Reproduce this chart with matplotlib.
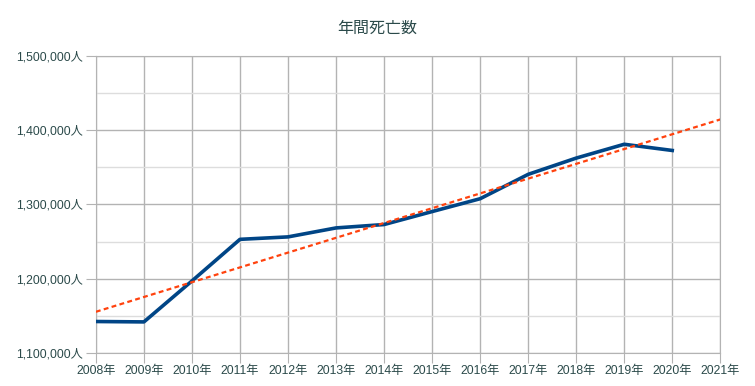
import matplotlib
matplotlib.use("Agg")
import matplotlib.pyplot as plt
from matplotlib.ticker import MultipleLocator, FuncFormatter

plt.rcParams['font.family'] = ['Liberation Sans', 'Noto Sans CJK JP', 'DejaVu Sans']

# Data
years = [2008, 2009, 2010, 2011, 2012, 2013, 2014, 2015, 2016, 2017, 2018, 2019, 2020]
deaths = [1142407, 1141865, 1197012, 1253066, 1256359, 1268436, 1273004,
          1290444, 1307748, 1340567, 1362470, 1381093, 1372755]
trend_years = [2008, 2021]
trend_values = [1155500, 1414500]
year_ticks = list(range(2008, 2022))

text_color = '#2b4a4a'

fig = plt.figure(figsize=(7.55, 3.86), dpi=100)
ax = fig.add_axes([0.127, 0.0855, 0.827, 0.7695])

ax.plot(years, deaths, color='#004586', linewidth=2.6, solid_joinstyle='round', zorder=3)
ax.plot(trend_years, trend_values, color='#ff420e', linewidth=1.6,
        linestyle=(0, (2.2, 1.5)), zorder=4)

ax.set_xlim(2008, 2021)
ax.set_ylim(1100000, 1500000)
ax.set_xticks(year_ticks)
ax.set_xticklabels([f"{y}年" for y in year_ticks])
ax.yaxis.set_major_locator(MultipleLocator(100000))
ax.yaxis.set_minor_locator(MultipleLocator(50000))
ax.yaxis.set_major_formatter(FuncFormatter(lambda v, p: f"{int(v):,}人"))

ax.grid(True, which='major', color='#b3b3b3', linewidth=1)
ax.grid(True, which='minor', axis='y', color='#dddddd', linewidth=1)
ax.set_axisbelow(True)

for s in ax.spines.values():
    s.set_color('#b3b3b3')
ax.tick_params(which='major', length=7, color='#b3b3b3', labelsize=8.8,
               labelcolor=text_color, pad=2)
ax.tick_params(which='minor', length=0)

fig.text(0.5, 1 - 28 / 386, "年間死亡数", fontsize=11.5, color=text_color,
         ha='center', va='center')

fig.savefig("out.png", dpi=100)
